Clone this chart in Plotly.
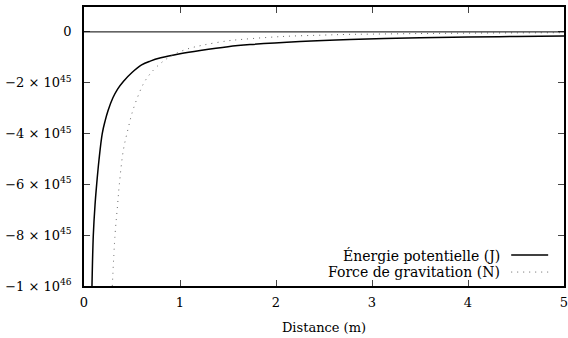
import plotly.graph_objects as go

# values (y in units of 1e45)
dist_energy = [0.083, 0.097, 0.115, 0.132, 0.156, 0.19, 0.22, 0.25, 0.3, 0.35, 0.41, 0.5,
               0.6, 0.69, 0.8, 1.0, 1.21, 1.5, 1.73, 2.25, 2.77, 3.5, 4.0, 4.5, 5.0]
energy = [-10.0, -8.0, -6.8, -6.0, -5.04, -4.0, -3.5, -3.1, -2.6, -2.25, -1.95, -1.6,
          -1.3, -1.15, -1.02, -0.86, -0.73, -0.58, -0.5, -0.38, -0.3, -0.23, -0.2, -0.18, -0.16]

dist_force = [0.295, 0.323, 0.35, 0.368, 0.41, 0.46, 0.5, 0.56, 0.625, 0.7, 0.8, 0.92, 1.07,
              1.24, 1.5, 1.66, 2.07, 2.5, 2.73, 3.0, 3.5, 4.0, 4.5, 5.0]
force = [-10.0, -8.0, -6.8, -6.0, -4.65, -3.8, -3.2, -2.55, -2.0, -1.6, -1.23, -0.92, -0.68,
         -0.52, -0.35, -0.29, -0.18, -0.125, -0.1, -0.087, -0.064, -0.049, -0.039, -0.031]

y_ticks = [0, -2, -4, -6, -8, -10]
y_tick_text = ["0", "−2 × 10<sup>45</sup>", "−4 × 10<sup>45</sup>",
               "−6 × 10<sup>45</sup>", "−8 × 10<sup>45</sup>", "−1 × 10<sup>46</sup>"]
x_ticks = [0, 1, 2, 3, 4, 5]

scale = 1e45
FONT = "DejaVu Serif"
FS = 13

fig = go.Figure()

fig.add_trace(go.Scatter(
    x=dist_energy, y=[v * scale for v in energy],
    mode="lines", name="Énergie potentielle (J)",
    line=dict(color="black", width=1.5, shape="spline", smoothing=1),
    showlegend=False,
))
fig.add_trace(go.Scatter(
    x=dist_force, y=[v * scale for v in force],
    mode="lines", name="Force de gravitation (N)",
    line=dict(color="#666666", width=1, dash="1px,5px", shape="spline", smoothing=1),
    showlegend=False,
))

# zero line
fig.add_hline(y=0, line=dict(color="black", width=1))

# legend (gnuplot style: text left, sample right)
fig.add_annotation(text="Énergie potentielle (J)", xref="paper", yref="paper",
                   x=0.871, y=0.111, xanchor="right", yanchor="middle",
                   showarrow=False, font=dict(size=14, color="black", family=FONT))
fig.add_annotation(text="Force de gravitation (N)", xref="paper", yref="paper",
                   x=0.871, y=0.050, xanchor="right", yanchor="middle",
                   showarrow=False, font=dict(size=14, color="black", family=FONT))
fig.add_shape(type="line", xref="paper", yref="paper", x0=0.890, x1=0.967,
              y0=0.111, y1=0.111, line=dict(color="black", width=1.5))
fig.add_shape(type="line", xref="paper", yref="paper", x0=0.890, x1=0.967,
              y0=0.050, y1=0.050, line=dict(color="#666666", width=1, dash="1px,5px"))

fig.update_xaxes(
    range=[0, 5], tickvals=x_ticks, ticks="inside", ticklen=6,
    showline=True, linecolor="black", linewidth=1.5, mirror="ticks",
    showgrid=False, zeroline=False, automargin=False,
    ticklabeloverflow="allow", ticklabelstandoff=4,
    title=dict(text="Distance (m)", font=dict(size=FS, family=FONT, color="black"), standoff=14),
    tickfont=dict(size=FS, family=FONT, color="black"),
)
fig.update_yaxes(
    range=[-1e46, 0.98e45], tickvals=[v * scale for v in y_ticks], ticktext=y_tick_text,
    ticks="inside", ticklen=6,
    showline=True, linecolor="black", linewidth=1.5, mirror="ticks",
    showgrid=False, zeroline=False, automargin=False,
    ticklabeloverflow="allow", ticklabelstandoff=8,
    tickfont=dict(size=FS, family=FONT, color="black"),
)

fig.update_layout(
    width=568, height=338,
    margin=dict(l=84, r=4, t=7, b=52),
    plot_bgcolor="white", paper_bgcolor="white",
    font=dict(family=FONT, color="black"),
)

# drop the default 8px page margin so the figure fills the window
fig.write_html("out.html", config={"displayModeBar": False},
               post_script="document.body.style.margin='0';")
